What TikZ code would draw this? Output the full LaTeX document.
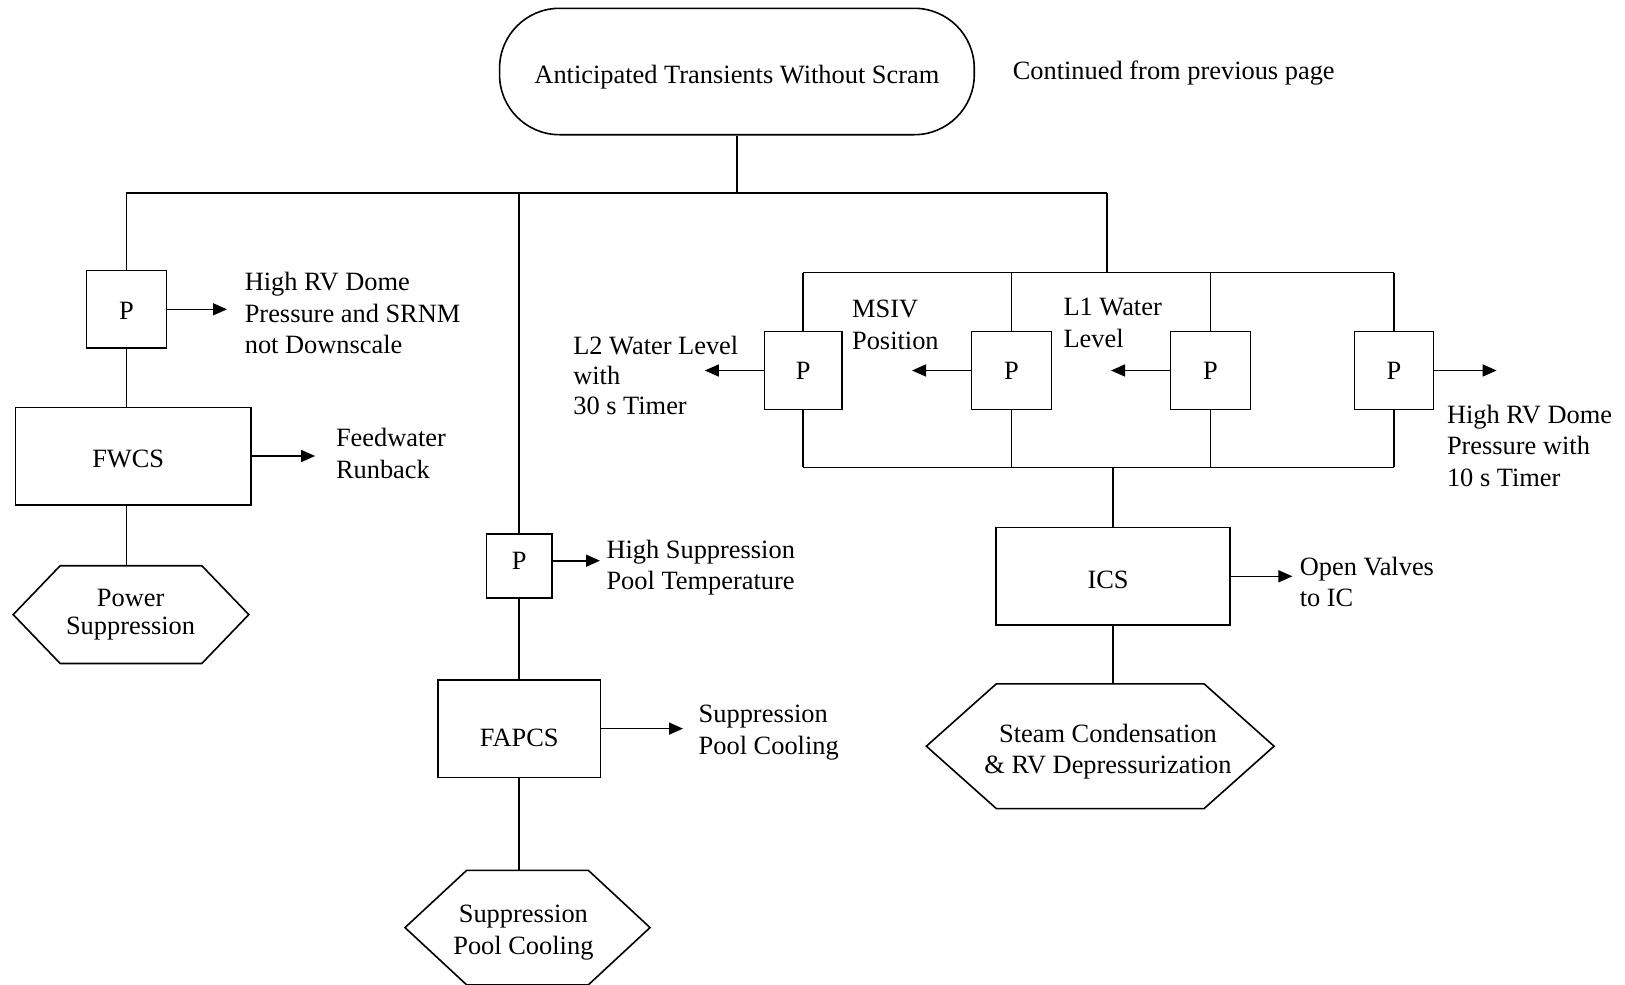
\documentclass[tikz,border=0pt]{standalone}
\usepackage{fontspec}
\setmainfont{Liberation Serif}
\usetikzlibrary{arrows.meta,calc}
\newcommand\drawhex[2]{%
  \draw[conn] ($(#1.north west)+(#2,0)$) -- ($(#1.north east)+(-#2,0)$) -- (#1.east)
    -- ($(#1.south east)+(-#2,0)$) -- ($(#1.south west)+(#2,0)$) -- (#1.west) -- cycle;}
\newcommand\shiftv[2]{\raisebox{#1}[\height][\depth]{#2}}
\begin{document}
\begin{tikzpicture}[x=1pt,y=-1pt,
  every node/.style={font=\fontsize{26.4}{31.5}\selectfont},
  boxn/.style={draw, line width=1.6pt, inner sep=0pt, align=center},
  hexn/.style={inner sep=0pt},
  hext/.style={inner sep=0pt, align=center},
  lbl/.style={anchor=west, align=left, inner sep=0pt},
  conn/.style={line width=1.6pt},
  arr/.style={line width=1.6pt, -{Triangle[length=14pt,width=12pt]}}]
\useasboundingbox (0,0) rectangle (1625,985);

% top
\node[boxn, rounded corners=60pt, minimum width=474.7pt, minimum height=126.4pt] (ats) at (736.9,71.5) {\shiftv{-6pt}{Anticipated Transients Without Scram}};
\node[lbl] (cont) at (1012.6,73.5) {Continued from previous page};

\coordinate (bl) at (126.4,192.8);
\coordinate (bm) at (519.2,192.8);
\coordinate (br) at (1106.9,192.8);
\draw[conn] (ats.south) -- (ats.south |- bl);
\draw[conn] (bl) -- (br);

% left branch
\node[boxn, minimum width=79.8pt, minimum height=77.7pt] (p0) at (126.4,309.3) {\shiftv{-2pt}{P}};
\draw[conn] (bl) -- (p0.north);
\coordinate (p0e) at (227,309.3);
\draw[arr] (p0.east) -- (p0e);
\node[lbl] (p0l) at (244.6,313) {High RV Dome\\Pressure and SRNM\\not Downscale};

\node[boxn, minimum width=235.3pt, minimum height=97.4pt] (fwcs) at (133.2,456) {\hspace*{-10pt}\shiftv{-3pt}{FWCS}};
\draw[conn] (p0.south) -- (p0.south |- fwcs.north);
\coordinate (fwe) at (315.1,456);
\draw[arr] (fwcs.east) -- (fwe);
\node[lbl] (fwl) at (335.8,453.5) {Feedwater\\Runback};

\node[hexn, minimum width=235.2pt, minimum height=97.4pt] (ps) at (131,614.6) {};
\drawhex{ps}{47}
\node[hext, font=\fontsize{26.4}{28}\selectfont] (pst) at (130.6,614.6) {Power\\Suppression};
\draw[conn] (p0.south |- fwcs.south) -- (p0.south |- ps.north);

% middle branch
\node[boxn, minimum width=65.3pt, minimum height=64.3pt] (p1) at (519.2,565.9) {\shiftv{5pt}{P}};
\draw[conn] (bm) -- (p1.north);
\coordinate (p1e) at (600,560.7);
\draw[arr] (p1.east |- p1e) -- (p1e);
\node[lbl, font=\fontsize{26.4}{30.5}\selectfont] (p1l) at (606.3,567.5) {High Suppression\\Pool Temperature};

\node[boxn, minimum width=162.7pt, minimum height=97.4pt] (fapcs) at (519.2,728.6) {\shiftv{-9.5pt}{FAPCS}};
\draw[conn] (p1.south) -- (fapcs.north);
\coordinate (fae) at (683,728.6);
\draw[arr] (fapcs.east) -- (fae);
\node[lbl] (fal) at (698.5,732.5) {Suppression\\Pool Cooling};

\node[hexn, minimum width=244.6pt, minimum height=114pt] (spc) at (527.5,927.6) {};
\drawhex{spc}{61.6}
\node[hext] (spct) at (523.4,932.8) {Suppression\\Pool Cooling};
\draw[conn] (fapcs.south) -- (fapcs.south |- spc.north);

% right branch
\coordinate (ftop) at (1106.9,272.6);
\draw[conn] (br) -- (ftop);
\node[boxn, minimum width=77.7pt, minimum height=77.7pt] (q1) at (803.2,370.5) {P};
\node[boxn, minimum width=79.8pt, minimum height=77.7pt] (q2) at (1011.5,370.5) {P};
\node[boxn, minimum width=79.8pt, minimum height=77.7pt] (q3) at (1210.5,370.5) {P};
\node[boxn, minimum width=78.7pt, minimum height=77.7pt] (q4) at (1394,370.5) {P};
\coordinate (ft1) at (803.2,272.6);
\coordinate (ft4) at (1394,272.6);
\coordinate (fb1) at (803.2,467.4);
\coordinate (fb4) at (1394,467.4);
\coordinate (fbm) at (1113.1,467.4);
\draw[conn] (ft1) -- (ft4);
\draw[conn] (fb1) -- (fb4);
\foreach \q in {q1,q2,q3,q4}{
  \draw[conn] (\q.north |- ft1) -- (\q.north);
  \draw[conn] (\q.south) -- (\q.south |- fb1);
}
\coordinate (q1e) at (704.8,370.5);
\coordinate (q2e) at (912,370.5);
\coordinate (q3e) at (1111,370.5);
\coordinate (q4e) at (1496.6,370.5);
\draw[arr] (q1.west) -- (q1e);
\draw[arr] (q2.west) -- (q2e);
\draw[arr] (q3.west) -- (q3e);
\draw[arr] (q4.east) -- (q4e);
\node[lbl, font=\fontsize{26.4}{30}\selectfont] (q1l) at (573.1,375.2) {L2 Water Level\\with\\30 s Timer};
\node[lbl] (q2l) at (851.9,324.9) {MSIV\\Position};
\node[lbl] (q3l) at (1063.3,322.9) {L1 Water\\Level};
\node[lbl] (q4l) at (1446.8,445.6) {High RV Dome\\Pressure with\\10 s Timer};

\node[boxn, minimum width=234.3pt, minimum height=97.4pt] (ics) at (1113.1,576.3) {\hspace*{-10pt}\shiftv{-4pt}{ICS}};
\draw[conn] (fbm) -- (ics.north);
\coordinate (icse) at (1292.4,576.3);
\draw[arr] (ics.east) -- (icse);
\node[lbl] (icsl) at (1299.6,582) {Open Valves\\to IC};

\node[hexn, minimum width=347.3pt, minimum height=124.4pt] (scd) at (1100.2,746.2) {};
\drawhex{scd}{70}
\node[hext] (scdt) at (1108,751.4) {Steam Condensation\\\& RV Depressurization};
\draw[conn] (ics.south) -- (ics.south |- scd.north);
\end{tikzpicture}
\end{document}
